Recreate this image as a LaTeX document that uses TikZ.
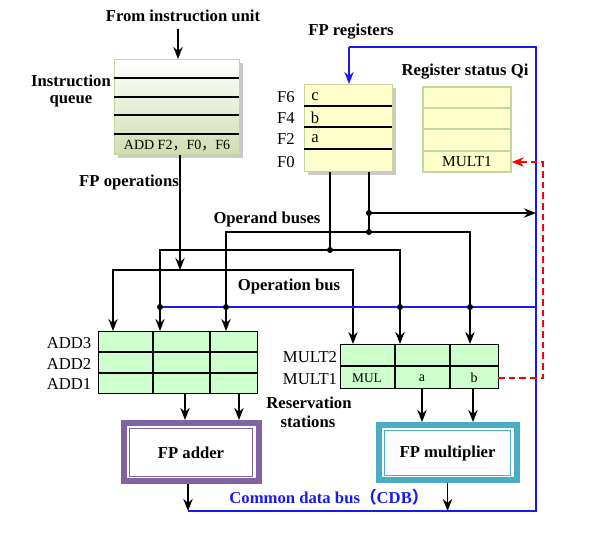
\documentclass[tikz,border=0pt]{standalone}
\usepackage{fontspec}
\setmainfont{Liberation Serif}
\newfontfamily\cjk{Noto Sans CJK SC}
\usetikzlibrary{arrows.meta,shadows}
\definecolor{qborder}{HTML}{C3D69B}
\definecolor{qbottom}{HTML}{D0DDB0}
\definecolor{regyel}{HTML}{FFFFCC}
\definecolor{rsgreen}{HTML}{CCFFCC}
\definecolor{addpurple}{HTML}{8064A2}
\definecolor{multeal}{HTML}{4BACC6}
\definecolor{cdbblue}{HTML}{1A1AF0}
\begin{document}
\begin{tikzpicture}[x=0.75pt,y=-0.75pt,
  lbl/.style={font=\bfseries\fontsize{12.5}{14}\selectfont, inner sep=0},
  reg/.style={font=\fontsize{12.5}{14}\selectfont, inner sep=0},
  small/.style={font=\fontsize{10.5}{12}\selectfont, inner sep=0},
  arr/.style={line width=1.4pt, -{Stealth[length=9pt,width=7pt]}},
  arrr/.style={line width=1.1pt, {Stealth[length=9pt,width=7pt]}-{Stealth[length=9pt,width=7pt]}},
  thinl/.style={line width=0.9pt},
  dot/.style={circle, fill=black, inner sep=0, minimum size=4.5pt},
  shad/.style={drop shadow={shadow xshift=2.2pt, shadow yshift=-2.2pt, fill=black!35, opacity=.6}},
]
\useasboundingbox (0,0) rectangle (593,536);

% ---------------- instruction queue
\node[lbl] (fromiu) at (183,16) {From instruction unit};
\node[inner sep=0, anchor=north west, minimum width=93.75pt, minimum height=71.25pt,
      top color=white, bottom color=qbottom, draw=qborder, line width=1pt, shad] (iq) at (114,59) {};
\foreach \yy in {78,97,115,134} \draw[line width=1.1pt] (114,\yy) -- (239,\yy);
\node[small] (iqtxt) at (177,146) {ADD F2{\cjk ，}F0{\cjk ，}F6};
\node[lbl] (iqlbl1) at (71,81) {Instruction};
\node[lbl] (iqlbl2) at (71,101) {queue};
\coordinate (fiu) at (178,29);
\draw[arr] (fiu) -- (iq.north -| fiu);
\node[lbl] (fpops) at (129,182) {FP operations};

% ---------------- FP registers
\node[lbl] (fprlbl) at (351,32) {FP registers};
\node[inner sep=0, anchor=north west, minimum width=66pt, minimum height=65.25pt,
      fill=regyel, draw=qborder, line width=1pt, shad] (fpr) at (304,84) {};
\foreach \yy in {106,127,149} \draw[line width=1pt] (304,\yy) -- (392,\yy);
\node[reg] at (286,97) {F6};
\node[reg] at (286,118) {F4};
\node[reg] at (286,139) {F2};
\node[reg] at (286,162) {F0};
\node[reg] at (315,97) {c};
\node[reg] at (315,118) {b};
\node[reg] at (315,139) {a};

% ---------------- register status
\node[lbl] (rslbl) at (465,72) {Register status Qi};
\node[inner sep=0, anchor=north west, minimum width=66pt, minimum height=63.75pt,
      fill=regyel, draw=qborder, line width=1.3pt] (rs) at (422,86) {};
\foreach \yy in {108,129,151} \draw[qborder, line width=1.3pt] (422,\yy) -- (510,\yy);
\node[font=\fontsize{11.5}{13}\selectfont, inner sep=0] (qimult) at (467,162) {MULT1};

% ---------------- reservation stations
\node[inner sep=0, anchor=north west, minimum width=119.25pt, minimum height=46.5pt,
      fill=rsgreen, draw=black, line width=1.1pt] (addrs) at (98,331) {};
\draw[line width=1.1pt] (98,352) -- (257,352) (98,373) -- (257,373)
      (153,331) -- (153,393) (210,331) -- (210,393);
\node[reg] at (69,343) {ADD3};
\node[reg] at (69,364) {ADD2};
\node[reg] at (69,384) {ADD1};

\node[inner sep=0, anchor=north west, minimum width=118.5pt, minimum height=33pt,
      fill=rsgreen, draw=black, line width=1.1pt] (mulrs) at (340,344) {};
\draw[line width=1.1pt] (340,366) -- (498,366) (395,344) -- (395,388) (450,344) -- (450,388);
\node[reg] at (310,357) {MULT2};
\node[reg] at (310,379) {MULT1};
\node[font=\fontsize{10}{12}\selectfont, inner sep=0] at (367,378) {MUL};
\node[font=\fontsize{10.5}{12}\selectfont, inner sep=0] at (422,378) {a};
\node[font=\fontsize{10.5}{12}\selectfont, inner sep=0] at (474,378) {b};
\coordinate (m1row) at (498,378);

\node[lbl] at (309,403) {Reservation};
\node[lbl] at (308,422) {stations};

% ---------------- functional units
\fill[addpurple] (121,420) rectangle (262,484);
\fill[white] (127,426) rectangle (256,478);
\node[inner sep=0, anchor=north west, minimum width=92.25pt, minimum height=36pt,
      fill=white, draw=addpurple, line width=0.8pt, lbl] (adder) at (129,428) {FP adder};
\fill[multeal] (376,422) rectangle (520,483);
\fill[white] (382,428) rectangle (514,477);
\node[inner sep=0, anchor=north west, minimum width=94.5pt, minimum height=33.75pt,
      fill=white, draw=multeal, line width=0.8pt, lbl] (mult) at (384,430) {FP multiplier};

% ---------------- coordinates for buses
\coordinate (ob) at (180,270);
\coordinate (o1) at (330,250);
\coordinate (o2) at (369,232);
\coordinate (o2b) at (369,213);
\coordinate (xa1) at (113,0);
\coordinate (xa2) at (160,0);
\coordinate (xa3) at (226,0);
\coordinate (xm1) at (353,0);
\coordinate (xm2) at (400,0);
\coordinate (xm3) at (470,0);
\coordinate (cdbr) at (536,511);
\coordinate (cdbtop) at (536,47);
\coordinate (fpin) at (349,47);
\coordinate (cdbl) at (188,511);
\coordinate (cdbmid) at (536,307);
\coordinate (redx) at (543,0);

% operation bus
\draw[arr] (iq.south -| ob) -- (ob);
\draw[arrr] (addrs.north -| xa1) |- (ob -| xm1) -- (mulrs.north -| xm1);
% operand buses
\draw[thinl] (fpr.south -| o1) -- (o1);
\draw[thinl] (fpr.south -| o2) -- (o2);
\draw[arrr] (addrs.north -| xa2) |- (o1) -| (mulrs.north -| xm2);
\draw[arrr] (addrs.north -| xa3) |- (o2) -| (mulrs.north -| xm3);
\draw[arr] (o2b) -- (o2b -| cdbr);
\node[dot] at (o1) {};
\node[dot] at (o2) {};
\node[dot] at (o2b) {};
\node[lbl] at (267,219) {Operand buses};
\node[lbl] at (289,286) {Operation bus};

% RS to units
\draw[arr] (addrs.south -| 185,0) -- (185,420);
\draw[arr] (addrs.south -| 239,0) -- (239,420);
\draw[arr] (mulrs.south -| 422,0) -- (422,422);
\draw[arr] (mulrs.south -| 473,0) -- (473,422);

% CDB
\draw[arr] (188,484) -- (cdbl);
\draw[arr] (mult.south |- 0,483) -- (mult.south |- cdbl);
\draw[cdbblue, line width=1pt] (cdbl) -- (cdbr) -- (cdbtop) -- (fpin);
\draw[cdbblue, line width=1.4pt, -{Stealth[length=9pt,width=7pt]}] (fpin) -- (fpr.north -| fpin);
\draw[cdbblue, line width=1pt] (cdbmid -| xa2) -- (cdbmid);
\foreach \xx in {xa2,xa3,xm2,xm3} \node[dot] at (cdbmid -| \xx) {};
\node[lbl, text=cdbblue] at (329,497) {Common data bus{\cjk （}CDB{\cjk ）}};

% red dashed
\draw[red, line width=1.3pt, dash pattern=on 5pt off 3pt, -{Stealth[length=9pt,width=7pt]}]
  (m1row) -| (redx |- qimult) -- (rs.east |- qimult);
\end{tikzpicture}
\end{document}
